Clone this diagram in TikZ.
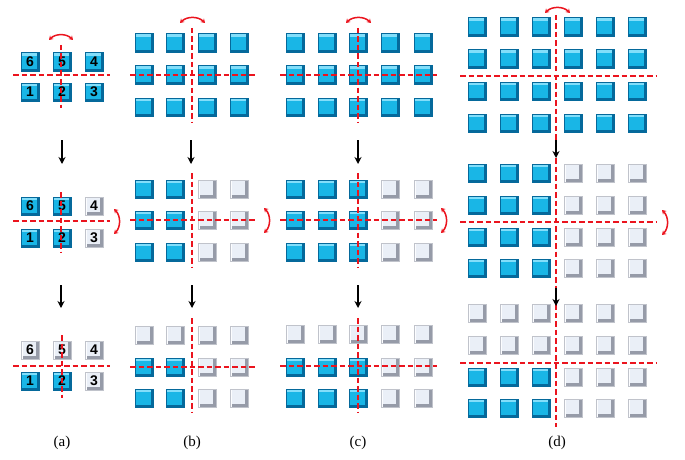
\documentclass[tikz,border=0pt]{standalone}
\usepackage{fontspec}
\setmainfont{Liberation Serif}
\newfontfamily\numfont{Liberation Sans}
\usetikzlibrary{arrows.meta}
\definecolor{bfill}{RGB}{25,182,230}
\definecolor{btop}{RGB}{130,222,250}
\definecolor{bdark}{RGB}{5,105,155}
\definecolor{wfill}{RGB}{234,239,247}
\definecolor{wdark}{RGB}{150,155,168}
\definecolor{wtop}{RGB}{252,253,255}
\definecolor{cutred}{RGB}{235,20,30}
\tikzset{
  sqbase/.style={minimum size=18.5pt,inner sep=0pt,font=\numfont\bfseries\fontsize{14}{14}\selectfont},
  bsq/.style={sqbase,fill=bfill,draw=bdark,line width=0.5pt,
    path picture={
      \fill[btop] (path picture bounding box.north west) rectangle ([yshift=-3pt]path picture bounding box.north east);
      \fill[bdark] ([xshift=-2pt]path picture bounding box.south east) rectangle (path picture bounding box.north east);
      \fill[bdark] (path picture bounding box.south west) rectangle ([yshift=2pt]path picture bounding box.south east);
    }},
  wsq/.style={sqbase,fill=wfill,draw=wdark!60,line width=0.4pt,
    path picture={
      \fill[wdark] ([xshift=-3pt]path picture bounding box.south east) rectangle (path picture bounding box.north east);
      \fill[wdark] (path picture bounding box.south west) rectangle ([yshift=3pt]path picture bounding box.south east);
      \fill[wtop] (path picture bounding box.north west) rectangle ([xshift=2pt]path picture bounding box.south west);
    }},
  cut/.style={cutred,dashed,dash pattern=on 5.5pt off 3pt,line width=1.4pt},
  rot/.style={cutred,line width=1.5pt,{Stealth[length=4pt,width=5pt]}-{Stealth[length=4pt,width=5pt]}},
  flow/.style={black,line width=1.6pt,-{Stealth[length=7pt,width=7pt]}},
  lab/.style={font=\fontsize{15}{15}\selectfont}
}
\begin{document}
\begin{tikzpicture}[x=1pt,y=-1pt]
\useasboundingbox (0,0) rectangle (685,460);
% ---------- column (a) ----------
% top
\node[bsq] (a1n6) at (30,62) {6};
\node[bsq] (a1n5) at (62,62) {5};
\node[bsq] (a1n4) at (94,62) {4};
\node[bsq] (a1n1) at (30,92) {1};
\node[bsq] (a1n2) at (62,92) {2};
\node[bsq] (a1n3) at (94,92) {3};
\draw[cut] (13,75) -- (110,75);
\draw[cut] (61,45) -- (61,108);
\draw[rot] (49,40) to[bend left=45] (73,40);
% middle
\node[bsq] (a2n6) at (30,206) {6};
\node[bsq] (a2n5) at (62,206) {5};
\node[wsq] (a2n4) at (94,206) {4};
\node[bsq] (a2n1) at (30,238) {1};
\node[bsq] (a2n2) at (62,238) {2};
\node[wsq] (a2n3) at (94,238) {3};
\draw[cut] (13,221) -- (110,221);
\draw[cut] (61,192) -- (61,253);
\draw[rot] (114,209) to[bend left=45] (114,234);
% bottom
\node[wsq] (a3n6) at (30,350) {6};
\node[wsq] (a3n5) at (62,350) {5};
\node[wsq] (a3n4) at (94,350) {4};
\node[bsq] (a3n1) at (30,381) {1};
\node[bsq] (a3n2) at (62,381) {2};
\node[wsq] (a3n3) at (94,381) {3};
\draw[cut] (13,366) -- (110,366);
\draw[cut] (62,335) -- (62,398);
\coordinate (aA1) at (62,140); \coordinate (aA2) at (62,164);
\coordinate (aB1) at (61,285); \coordinate (aB2) at (61,308);
\draw[flow] (aA1) -- (aA2);
\draw[flow] (aB1) -- (aB2);
\node[lab] (la) at (62,443) {(a)};
% ---------- column (b) ----------
\foreach \r/\y in {1/43,2/75,3/107}{
  \foreach \c/\x in {1/144,2/175,3/207,4/239}{
    \node[bsq] (b1-\r-\c) at (\x,\y) {};
  }}
\foreach \r/\y in {1/189,2/220,3/252}{
  \foreach \c/\x/\s in {1/144/bsq,2/175/bsq,3/207/wsq,4/239/wsq}{
    \node[\s] (b2-\r-\c) at (\x,\y) {};
  }}
\foreach \c/\x in {1/144,2/175,3/207,4/239}{\node[wsq] (b3-1-\c) at (\x,335) {};}
\foreach \r/\y in {2/367,3/398}{
  \foreach \c/\x/\s in {1/144/bsq,2/175/bsq,3/207/wsq,4/239/wsq}{
    \node[\s] (b3-\r-\c) at (\x,\y) {};
  }}
\draw[cut] (130,75) -- (257,75);
\draw[cut] (192,28) -- (192,122);
\draw[rot] (180,23) to[bend left=45] (205,23);
\draw[cut] (130,220) -- (257,220);
\draw[cut] (192,173) -- (192,267);
\draw[rot] (264,208) to[bend left=45] (264,233);
\draw[cut] (130,367) -- (257,367);
\draw[cut] (192,318) -- (192,412);
\coordinate (bA1) at (191,140); \coordinate (bA2) at (191,164);
\coordinate (bB1) at (192,285); \coordinate (bB2) at (192,308);
\draw[flow] (bA1) -- (bA2);
\draw[flow] (bB1) -- (bB2);
\node[lab] (lb) at (192,443) {(b)};
% ---------- column (c) ----------
\foreach \r/\y in {1/43,2/75,3/107}{
  \foreach \c/\x in {1/295,2/327,3/358,4/390,5/423}{
    \node[bsq] (c1-\r-\c) at (\x,\y) {};
  }}
\foreach \r/\y in {1/189,2/220,3/252}{
  \foreach \c/\x/\s in {1/295/bsq,2/327/bsq,3/358/bsq,4/390/wsq,5/423/wsq}{
    \node[\s] (c2-\r-\c) at (\x,\y) {};
  }}
\foreach \c/\x in {1/295,2/327,3/358,4/390,5/423}{\node[wsq] (c3-1-\c) at (\x,334) {};}
\foreach \r/\y in {2/367,3/398}{
  \foreach \c/\x/\s in {1/295/bsq,2/327/bsq,3/358/bsq,4/390/wsq,5/423/wsq}{
    \node[\s] (c3-\r-\c) at (\x,\y) {};
  }}
\draw[cut] (280,75) -- (437,75);
\draw[cut] (358,28) -- (358,122);
\draw[rot] (346,23) to[bend left=45] (371,23);
\draw[cut] (280,220) -- (437,220);
\draw[cut] (358,173) -- (358,267);
\draw[rot] (441,208) to[bend left=45] (441,233);
\draw[cut] (280,366) -- (437,366);
\draw[cut] (358,318) -- (358,412);
\coordinate (cA1) at (358,140); \coordinate (cA2) at (358,164);
\coordinate (cB1) at (358,285); \coordinate (cB2) at (358,308);
\draw[flow] (cA1) -- (cA2);
\draw[flow] (cB1) -- (cB2);
\node[lab] (lc) at (358,443) {(c)};
% ---------- column (d) ----------
\foreach \r/\y in {1/27,2/59,3/91,4/123}{
  \foreach \c/\x in {1/477,2/509,3/541,4/573,5/605,6/637}{
    \node[bsq] (d1-\r-\c) at (\x,\y) {};
  }}
\foreach \r/\y in {1/173,2/205,3/237,4/268}{
  \foreach \c/\x/\s in {1/477/bsq,2/509/bsq,3/541/bsq,4/573/wsq,5/605/wsq,6/637/wsq}{
    \node[\s] (d2-\r-\c) at (\x,\y) {};
  }}
\foreach \r/\y in {1/313,2/345}{
  \foreach \c/\x in {1/477,2/509,3/541,4/573,5/605,6/637}{
    \node[wsq] (d3-\r-\c) at (\x,\y) {};
  }}
\foreach \r/\y in {3/377,4/408}{
  \foreach \c/\x/\s in {1/477/bsq,2/509/bsq,3/541/bsq,4/573/wsq,5/605/wsq,6/637/wsq}{
    \node[\s] (d3-\r-\c) at (\x,\y) {};
  }}
\draw[cut] (460,76) -- (657,76);
\draw[cut] (556,15) -- (556,142);
\draw[rot] (545,13) to[bend left=45] (570,13);
\draw[cut] (460,222) -- (657,222);
\draw[cut] (556,158) -- (556,290);
\draw[rot] (662,210) to[bend left=45] (662,235);
\draw[cut] (460,363) -- (657,363);
\draw[cut] (556,304) -- (556,427);
\coordinate (dA1) at (556,140); \coordinate (dA2) at (556,158);
\coordinate (dB1) at (556,288); \coordinate (dB2) at (556,306);
\draw[flow] (dA1) -- (dA2);
\draw[flow] (dB1) -- (dB2);
\node[lab] (ld) at (557,443) {(d)};
\end{tikzpicture}
\end{document}
